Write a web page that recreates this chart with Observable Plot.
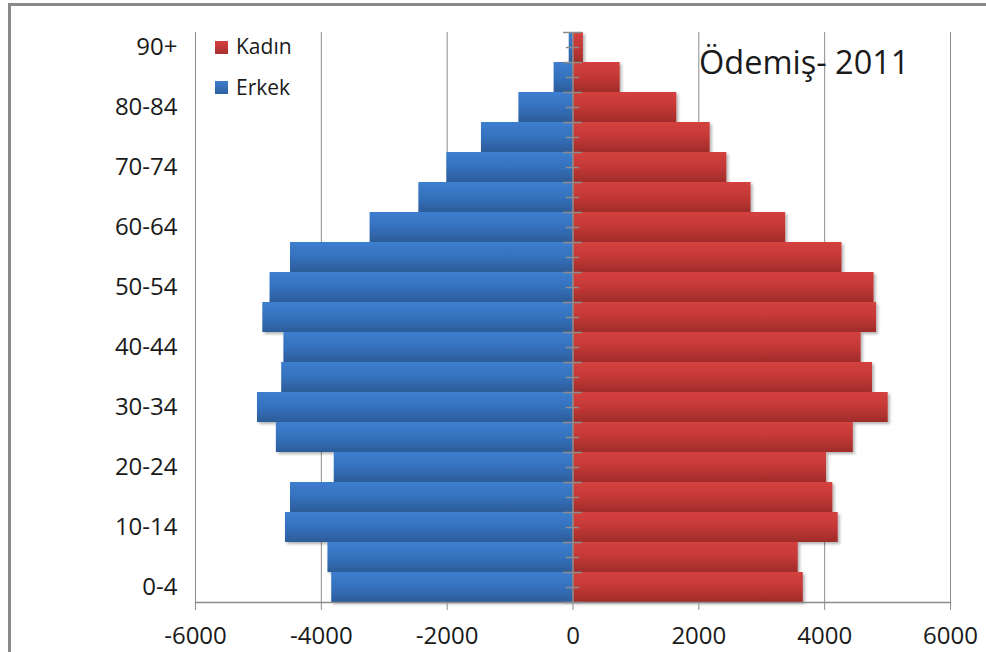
<!DOCTYPE html>
<html>
<head>
<meta charset="utf-8">
<script src="https://cdn.jsdelivr.net/npm/d3@7"></script>
<script src="https://cdn.jsdelivr.net/npm/@observablehq/plot@0.6"></script>
<style>
  body { margin: 0; background: #fff; }
  #wrap { position: relative; width: 986px; height: 652px; overflow: hidden; font-family: "Open Sans", sans-serif; color: #1a1a1a; }
  #frame { position: absolute; left: 8px; top: 3px; width: 1100px; height: 800px; border-left: 3px solid #8a8a8a; border-top: 3px solid #8a8a8a; box-sizing: border-box; }
  #chart { position: absolute; left: 0; top: 0; }
  .sw { position: absolute; width: 13px; height: 13px; }
  .lt { position: absolute; font-size: 21px; line-height: 1; white-space: nowrap; }
  #title { position: absolute; left: 699px; top: 46px; font-size: 32.5px; line-height: 1; white-space: nowrap; }
</style>
</head>
<body>
<svg width="0" height="0" style="position:absolute">
  <defs>
    <linearGradient id="gBlue" x1="0" y1="0" x2="0" y2="1">
      <stop offset="0" stop-color="#3d7ecf"/>
      <stop offset="0.5" stop-color="#3571bd"/>
      <stop offset="1" stop-color="#2c5c99"/>
    </linearGradient>
    <linearGradient id="gRed" x1="0" y1="0" x2="0" y2="1">
      <stop offset="0" stop-color="#d4413f"/>
      <stop offset="0.5" stop-color="#c33836"/>
      <stop offset="1" stop-color="#9f2c2a"/>
    </linearGradient>
    <filter id="shadow" x="-5%" y="-20%" width="115%" height="150%">
      <feDropShadow dx="2" dy="2" stdDeviation="1.5" flood-color="#000" flood-opacity="0.3"/>
    </filter>
  </defs>
</svg>
<div id="wrap">
  <div id="frame"></div>
  <div id="chart"></div>
  <div class="sw" style="left:215px;top:41px;background:linear-gradient(#d4413f,#a83030);"></div>
  <div class="lt" id="l1" style="left:236px;top:36px;"></div>
  <div class="sw" style="left:215px;top:81px;background:linear-gradient(#3d7ecf,#2e60a0);"></div>
  <div class="lt" id="l2" style="left:236px;top:77px;"></div>
  <div id="title"></div>
</div>
<script>
const ages = ["0-4","5-9","10-14","15-19","20-24","25-29","30-34","35-39","40-44","45-49","50-54","55-59","60-64","65-69","70-74","75-79","80-84","85-89","90+"];
const male = [3835,3895,4570,4490,3795,4715,5015,4630,4595,4930,4815,4490,3225,2450,2005,1455,860,300,60];
const female = [3660,3580,4215,4130,4030,4455,5010,4760,4580,4825,4785,4275,3380,2830,2445,2180,1650,750,165];
const seriesNames = ["Kadın","Erkek"];
const titleText = "Ödemiş- 2011";
const xTicks = [-6000,-4000,-2000,0,2000,4000,6000];
const ageLabels = ages.filter((d, i) => i % 2 === 0);

const maleRows = ages.map((a, i) => ({age: a, sex: seriesNames[1], value: -male[i]}));
const femaleRows = ages.map((a, i) => ({age: a, sex: seriesNames[0], value: female[i]}));

const W = 986, H = 652, mt = 32, mb = 50, ml = 195, mr = 36;
const band = (H - mt - mb) / ages.length;
const gray = "#8c8c8c";

const chart = Plot.plot({
  width: W,
  height: H,
  marginLeft: ml,
  marginRight: mr,
  marginTop: mt,
  marginBottom: mb,
  x: {domain: [-6000, 6000], label: null},
  y: {domain: ages.slice().reverse(), padding: 0, label: null},
  style: {fontFamily: "'Open Sans', sans-serif", color: "#1a1a1a", background: "transparent", overflow: "visible"},
  marks: [
    Plot.ruleX(xTicks.filter(d => d !== 0), {stroke: gray, strokeWidth: 1}),
    Plot.barX(maleRows, {x: "value", y: "age", fill: "url(#gBlue)"}),
    Plot.barX(femaleRows, {x: "value", y: "age", fill: "url(#gRed)"}),
    Plot.ruleX([0], {stroke: gray, strokeWidth: 1.5}),
    Plot.ruleY(ages, {y: d => d, x1: -150, x2: 150, dy: -band / 2, stroke: gray, strokeWidth: 1.5}),
    Plot.ruleY([ages[0]], {y: d => d, x1: -150, x2: 150, dy: band / 2, stroke: gray, strokeWidth: 1.5}),
    Plot.ruleY(ages, {y: d => d, x1: -105, x2: 105, stroke: gray, strokeWidth: 1.5}),
    Plot.frame({anchor: "bottom", stroke: gray, strokeWidth: 1.5}),
    Plot.axisX({ticks: xTicks, tickSize: 8, tickPadding: 16, fontSize: 24, stroke: gray, label: null, tickFormat: d => String(d)}),
    Plot.axisY({ticks: ageLabels, tickSize: 0, tickPadding: 18, fontSize: 24, label: null})
  ]
});
document.getElementById("chart").appendChild(chart);
chart.querySelectorAll('g[aria-label="bar"]').forEach(g => g.setAttribute("filter", "url(#shadow)"));
document.getElementById("l1").textContent = seriesNames[0];
document.getElementById("l2").textContent = seriesNames[1];
document.getElementById("title").textContent = titleText;
</script>
</body>
</html>
